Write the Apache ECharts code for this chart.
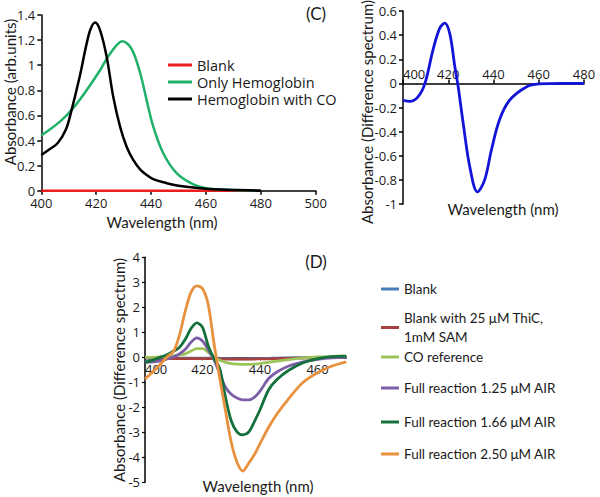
<!DOCTYPE html>
<html>
<head>
<meta charset="utf-8">
<script src="https://cdn.jsdelivr.net/npm/echarts@6/dist/echarts.min.js"></script>
<style>html,body{margin:0;padding:0;background:#fff}#c{width:600px;height:497px}</style>
</head>
<body>
<div id="c"></div>
<script>
// ---------- Panel (top-left): absorbance spectra ----------
const blankWl = [400, 480];
const blankAbs = [0, 0];
const hbWl = [400, 406.8, 411.7, 416.5, 421.4, 425, 429.6, 432.9, 436, 438.4, 440.8, 444.4, 449.3, 455.4, 460, 470, 480];
const hbAbs = [0.44, 0.55, 0.66, 0.80, 0.96, 1.09, 1.19, 1.13, 0.94, 0.72, 0.51, 0.30, 0.14, 0.05, 0.02, 0.005, 0];
const coWl = [400, 403, 406, 409, 411, 414, 416.5, 418, 419.6, 421.4, 423.8, 426.2, 428.7, 431.1, 433.5, 436, 438.4, 441, 445.7, 450, 457.8, 465, 472, 480];
const coAbs = [0.284, 0.33, 0.38, 0.49, 0.64, 0.91, 1.17, 1.29, 1.34, 1.28, 1.07, 0.75, 0.51, 0.35, 0.245, 0.17, 0.125, 0.09, 0.06, 0.04, 0.02, 0.01, 0.005, 0];

// ---------- Panel (C): difference spectrum ----------
const diffWl = [400, 403, 406.7, 409.7, 413.3, 416.3, 418.5, 420.7, 422.9, 424.4, 426.6, 429.5, 432.9, 436.1, 439.1, 442.7, 447.1, 454.5, 460, 470, 480];
const diffAbs = [-0.14, -0.15, -0.11, 0, 0.28, 0.46, 0.50, 0.41, 0.14, -0.03, -0.33, -0.69, -0.90, -0.80, -0.55, -0.30, -0.14, -0.03, -0.005, 0, 0];

// ---------- Panel (D): difference spectra of reactions ----------
const wlD = [400, 403, 406, 408, 410, 412, 414, 416, 418, 420, 422, 424, 426, 428, 430, 432, 434, 436, 438, 440, 443, 446, 450, 455, 460, 465, 470];
const dBlank = [-0.15, -0.1, -0.06, -0.04, -0.03, -0.03, -0.03, -0.03, -0.03, -0.03, -0.03, -0.03, -0.04, -0.05, -0.06, -0.06, -0.06, -0.06, -0.05, -0.05, -0.04, -0.03, -0.02, -0.01, 0, 0, 0];
const dThiC = [-0.02, -0.03, -0.04, -0.05, -0.05, -0.05, -0.05, -0.05, -0.05, -0.05, -0.05, -0.05, -0.06, -0.07, -0.07, -0.07, -0.07, -0.07, -0.07, -0.06, -0.06, -0.05, -0.04, -0.03, -0.02, -0.01, 0];
const dCO = [0, 0, 0.02, 0.04, 0.07, 0.1, 0.14, 0.25, 0.35, 0.35, 0.2, 0, -0.12, -0.2, -0.25, -0.27, -0.28, -0.28, -0.27, -0.25, -0.2, -0.15, -0.09, -0.02, 0.02, 0.04, 0.05];
const d125 = [-0.2, -0.18, -0.12, -0.05, 0.02, 0.14, 0.32, 0.6, 0.78, 0.65, 0.3, -0.1, -0.65, -1.2, -1.48, -1.63, -1.7, -1.7, -1.6, -1.35, -0.85, -0.58, -0.35, -0.18, -0.08, -0.02, 0];
const d166 = [-0.2, -0.1, 0.03, 0.12, 0.25, 0.4, 0.72, 1.15, 1.38, 1.2, 0.45, -0.05, -0.45, -1.6, -2.55, -2.98, -3.1, -3.0, -2.58, -2.1, -1.3, -0.88, -0.52, -0.22, -0.05, 0.03, 0.05];
const d250 = [-0.87, -0.55, -0.2, 0.05, 0.25, 0.9, 1.85, 2.6, 2.86, 2.75, 2.1, 0.55, -0.85, -2.15, -3.4, -4.2, -4.55, -4.25, -3.9, -3.45, -2.8, -2.25, -1.65, -1.0, -0.62, -0.35, -0.18];

const dNames = ['Blank', 'Blank with 25 \u03bcM ThiC,\n1mM SAM', 'CO reference', 'Full reaction 1.25 \u03bcM AIR', 'Full reaction 1.66 \u03bcM AIR', 'Full reaction 2.50 \u03bcM AIR'];
const dSeries = [dBlank, dThiC, dCO, d125, d166, d250];
const dColors = ['#4a7ebb', '#a8403d', '#9bc35a', '#7b5ea7', '#14703c', '#e8913e'];

const pair = (xs, ys) => xs.map((x, i) => [x, ys[i]]);
const TXT = '#1a1a1a';
const FONT = 'Open Sans';
const TFONT = '15px Lato';
const axLine = { show: true, onZero: false, lineStyle: { color: '#000', width: 1.5 } };

const chart = echarts.init(document.getElementById('c'), null, { renderer: 'svg' });

const series = [
  { name: 'Blank', type: 'line', xAxisIndex: 0, yAxisIndex: 0, data: pair(blankWl, blankAbs), symbol: 'none', lineStyle: { color: '#ee1c1c', width: 2.5 }, itemStyle: { color: '#ee1c1c' }, z: 3 },
  { name: 'Only Hemoglobin', type: 'line', xAxisIndex: 0, yAxisIndex: 0, data: pair(hbWl, hbAbs), smooth: 0.35, symbol: 'none', lineStyle: { color: '#1fb06a', width: 2.5 }, itemStyle: { color: '#1fb06a' } },
  { name: 'Hemoglobin with CO', type: 'line', xAxisIndex: 0, yAxisIndex: 0, data: pair(coWl, coAbs), smooth: 0.35, symbol: 'none', lineStyle: { color: '#000', width: 2.5 }, itemStyle: { color: '#000' } },
  { name: 'diffC', type: 'line', xAxisIndex: 1, yAxisIndex: 1, data: pair(diffWl, diffAbs), smooth: 0.35, symbol: 'none', lineStyle: { color: '#1414d8', width: 2.8 }, itemStyle: { color: '#1414d8' } }
];
dNames.forEach((n, i) => {
  series.push({ name: 'D' + i, type: 'line', xAxisIndex: 2, yAxisIndex: 2, data: pair(wlD, dSeries[i]), smooth: 0.3, symbol: 'none', lineStyle: { color: dColors[i], width: 2.8 }, itemStyle: { color: dColors[i] } });
});

const dCenters = [289, 327.5, 357, 388, 422, 454];
const dLegends = dNames.map((n, i) => ({
  data: ['D' + i], orient: 'vertical', left: 381, top: dCenters[i] - (i === 1 ? 19 : 9.5),
  itemWidth: 18, itemHeight: 3, padding: 0, icon: 'rect',
  itemStyle: { color: dColors[i] },
  formatter: () => n,
  textStyle: { fontFamily: 'Lato', fontSize: 13.5, color: TXT, lineHeight: 19 }
}));

// grid geometry (layout only)
const G1 = { left: 403, top: 11, width: 181, height: 193 };
const G2 = { left: 145, top: 257.3, width: 201.3, height: 225 };

chart.setOption({
  animation: false,
  backgroundColor: '#fff',
  grid: [
    { left: 41.3, top: 15, width: 274.4, height: 175.7 },
    G1,
    G2
  ],
  xAxis: [
    { gridIndex: 0, type: 'value', min: 400, max: 500, interval: 20, axisLine: axLine, splitLine: { show: false },
      axisTick: { show: true, length: 4, lineStyle: { color: '#000', width: 1.5 } },
      axisLabel: { fontFamily: FONT, fontSize: 13, color: TXT, margin: 6 } },
    { gridIndex: 1, type: 'value', min: 400, max: 480, interval: 20, position: 'bottom', offset: -G1.height * 1 / 1.6,
      axisLine: axLine, splitLine: { show: false },
      axisTick: { show: true, inside: true, length: 4, lineStyle: { color: '#000', width: 1.5 } },
      axisLabel: { inside: true, fontFamily: FONT, fontSize: 13, color: TXT, margin: 3, alignMinLabel: 'left' } },
    { gridIndex: 2, type: 'value', min: 400, max: 470, interval: 20, position: 'bottom', offset: -G2.height * 5 / 9,
      axisLine: axLine, splitLine: { show: false },
      axisTick: { show: true, length: 3, lineStyle: { color: '#000', width: 1.2 } },
      axisLabel: { fontFamily: FONT, fontSize: 13, color: TXT, margin: 5, alignMinLabel: 'left', showMaxLabel: false } }
  ],
  yAxis: [
    { gridIndex: 0, type: 'value', min: 0, max: 1.4, interval: 0.2, axisLine: axLine, splitLine: { show: false },
      axisTick: { show: true, length: 4, lineStyle: { color: '#000', width: 1.5 } },
      axisLabel: { fontFamily: FONT, fontSize: 13, color: TXT, margin: 6 } },
    { gridIndex: 1, type: 'value', min: -1, max: 0.6, interval: 0.2, axisLine: axLine, splitLine: { show: false },
      axisTick: { show: true, length: 4, lineStyle: { color: '#000', width: 1.5 } },
      axisLabel: { fontFamily: FONT, fontSize: 13, color: TXT, margin: 6 } },
    { gridIndex: 2, type: 'value', min: -5, max: 4, interval: 1, axisLine: axLine, splitLine: { show: false },
      axisTick: { show: true, length: 3, lineStyle: { color: '#000', width: 1.2 } },
      axisLabel: { fontFamily: FONT, fontSize: 13, color: TXT, margin: 5 } }
  ],
  legend: [
    { data: ['Blank', 'Only Hemoglobin', 'Hemoglobin with CO'], orient: 'vertical', left: 168, top: 56.5,
      itemWidth: 24, itemHeight: 3, itemGap: 0, padding: 0, icon: 'rect',
      textStyle: { fontFamily: FONT, fontSize: 14.5, color: TXT, lineHeight: 17 } }
  ].concat(dLegends),
  graphic: [
    { type: 'text', x: 10, y: 92, rotation: Math.PI / 2, style: { text: 'Absorbance (arb.units)', font: TFONT, fill: TXT, textAlign: 'center', textVerticalAlign: 'middle' } },
    { type: 'text', x: 162, y: 222, style: { text: 'Wavelength (nm)', font: TFONT, fill: TXT, textAlign: 'center', textVerticalAlign: 'middle' } },
    { type: 'text', x: 367, y: 112, rotation: Math.PI / 2, style: { text: 'Absorbance (Difference spectrum)', font: TFONT, fill: TXT, textAlign: 'center', textVerticalAlign: 'middle' } },
    { type: 'text', x: 503, y: 209, style: { text: 'Wavelength (nm)', font: TFONT, fill: TXT, textAlign: 'center', textVerticalAlign: 'middle' } },
    { type: 'text', x: 316, y: 13, style: { text: '(C)', font: '17px Lato', fill: TXT, textAlign: 'center', textVerticalAlign: 'middle' } },
    { type: 'text', x: 119, y: 370, rotation: Math.PI / 2, style: { text: 'Absorbance (Difference spectrum)', font: TFONT, fill: TXT, textAlign: 'center', textVerticalAlign: 'middle' } },
    { type: 'text', x: 258, y: 486, style: { text: 'Wavelength (nm)', font: TFONT, fill: TXT, textAlign: 'center', textVerticalAlign: 'middle' } },
    { type: 'text', x: 316, y: 261, style: { text: '(D)', font: '17px Lato', fill: TXT, textAlign: 'center', textVerticalAlign: 'middle' } }
  ],
  series: series
});
</script>
</body>
</html>
